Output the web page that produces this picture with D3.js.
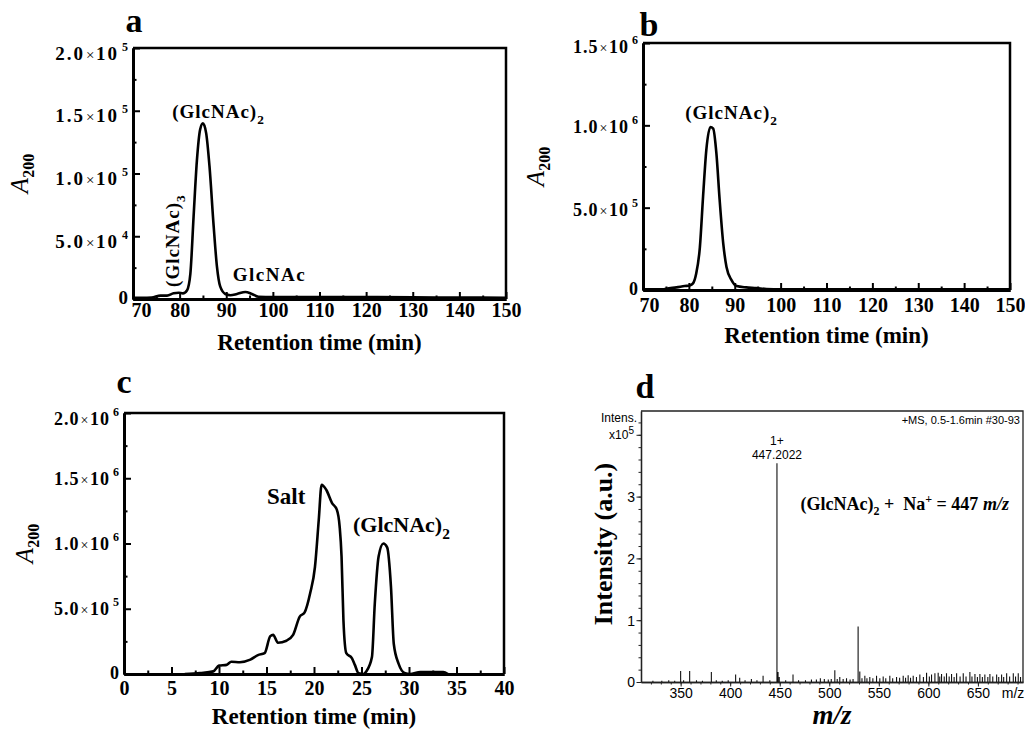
<!DOCTYPE html>
<html>
<head>
<meta charset="utf-8">
<script src="https://cdn.jsdelivr.net/npm/d3@7"></script>
<style>
  body { margin: 0; background: #fff; }
  svg text { font-family: "Liberation Serif", "Times New Roman", serif; font-weight: bold; fill: #000; }
  svg .ms text, svg text.ms { font-family: "Liberation Sans Narrow", "Liberation Sans", Arial, sans-serif; font-weight: normal; }
</style>
</head>
<body>
<svg id="fig" width="1025" height="733"></svg>
<script>
// ---- panel a : HPLC, (GlcNAc)n products ----
var timeA = [70, 72, 74, 75.9, 77.3, 78.7, 79.8, 80.7, 81.6, 82.3, 83.0, 83.7, 84.4, 85.0, 85.7, 86.4, 87.3, 88.0, 88.7, 89.8, 90.9, 92.3, 94.1, 95.5, 96.9, 100, 110, 120, 130, 140, 150];
var absA  = [1000, 1000, 1200, 2700, 2700, 4500, 5000, 4500, 7000, 20000, 66000, 110000, 135000, 140000, 132000, 106000, 58000, 26000, 10000, 4000, 3000, 4000, 5600, 4000, 1800, 1500, 1500, 1500, 1300, 1200, 1000];

// ---- panel b : purified (GlcNAc)2 ----
var timeB = [70, 74.4, 75.1, 77.3, 79.1, 80.2, 80.9, 81.6, 82.4, 83.1, 83.8, 84.7, 85.3, 86.0, 86.7, 87.5, 88.2, 89.3, 90.4, 92.5, 94.7, 96.9, 100, 110, 120, 130, 140, 150];
var absB  = [4000, 4000, 8000, 16000, 24000, 28000, 40000, 100000, 260000, 570000, 850000, 990000, 980000, 830000, 550000, 280000, 140000, 60000, 24000, 16000, 12000, 6000, 4000, 4000, 4000, 4000, 4000, 4000];

// ---- panel c : desalting ----
var timeC = [6.4, 8.0, 9.4, 10.0, 10.8, 11.3, 12.2, 13.3, 14.1, 14.8, 15.4, 15.7, 16.2, 17.1, 17.8, 18.5, 19.0, 19.6, 20.1, 20.5, 20.8, 21.3, 21.9, 22.4, 22.7, 22.9, 23.1, 23.4, 24.0, 24.3, 24.7, 25.2, 25.5, 26.1, 26.4, 26.8, 27.3, 27.7, 28.1, 28.4, 28.9, 29.6, 30.1, 31.2, 33.6, 34.1];
var absC  = [0, 8000, 20000, 64000, 70000, 94000, 90000, 110000, 145000, 160000, 290000, 300000, 240000, 255000, 300000, 440000, 470000, 620000, 820000, 1180000, 1450000, 1410000, 1310000, 1260000, 1130000, 900000, 410000, 160000, 120000, 70000, 5000, 0, 20000, 130000, 540000, 900000, 1000000, 970000, 670000, 230000, 80000, 5000, 0, 15000, 15000, 0];

// ---- panel d : ESI-MS (intensity in units of 1e5) ----
var mzPeaks  = [322, 331, 338, 344, 350.0, 353, 359.1, 366, 372, 381.0, 386, 392, 398, 405.5, 409.6, 415, 421.4, 427, 433.2, 440, 447.2, 448.3, 449.5, 456, 463.4, 469, 476, 482, 487, 491, 495, 499, 502, 505.6, 508, 510.6, 514, 517.4, 521, 524, 529.1, 530.8, 533, 535.9, 538, 540.9, 544, 547.7, 551, 554.4, 557, 561.1, 564, 567.9, 571, 574.6, 577, 579.6, 582, 584.7, 588, 591.4, 595, 598.2, 601, 603.2, 606.6, 609.9, 611.5, 613.3, 616, 618.3, 621, 623.4, 626, 628.5, 632, 635.2, 638, 641.9, 644, 647, 649.5, 652, 654.5, 657, 660, 662.1, 665, 668.9, 671, 673.9, 676, 679, 682, 685.7, 688, 690.7, 693];
var intPeaks = [0.02, 0.02, 0.03, 0.02, 0.18, 0.03, 0.18, 0.03, 0.02, 0.16, 0.03, 0.02, 0.03, 0.12, 0.07, 0.03, 0.05, 0.03, 0.10, 0.03, 3.54, 0.16, 0.08, 0.03, 0.12, 0.03, 0.03, 0.04, 0.04, 0.06, 0.05, 0.04, 0.05, 0.19, 0.05, 0.08, 0.05, 0.06, 0.04, 0.05, 0.90, 0.17, 0.06, 0.10, 0.06, 0.08, 0.06, 0.10, 0.06, 0.09, 0.06, 0.10, 0.06, 0.08, 0.07, 0.10, 0.07, 0.11, 0.07, 0.10, 0.08, 0.12, 0.08, 0.15, 0.09, 0.12, 0.14, 0.15, 0.09, 0.13, 0.09, 0.14, 0.09, 0.13, 0.08, 0.14, 0.09, 0.14, 0.09, 0.16, 0.09, 0.13, 0.08, 0.13, 0.08, 0.12, 0.08, 0.13, 0.09, 0.12, 0.08, 0.12, 0.08, 0.14, 0.09, 0.14, 0.09, 0.14, 0.08];

var svg = d3.select("#fig");

// builds one chromatogram box (panels a-c)
function chromPanel(o) {
  var g = svg.append("g");
  var x = d3.scaleLinear().domain(o.xDomain).range([o.left, o.right]);
  var y = d3.scaleLinear().domain(o.yDomain).range([o.bottom, o.top]);

  // minor ticks first, then majors
  g.append("g")
    .attr("transform", "translate(0," + o.bottom + ")")
    .call(d3.axisBottom(x).tickValues(o.xMinor).tickSize(-3.5).tickSizeOuter(0).tickFormat(""));
  var xa = g.append("g")
    .attr("transform", "translate(0," + o.bottom + ")")
    .call(d3.axisBottom(x).tickValues(o.xMajor).tickSize(-7).tickSizeOuter(0).tickFormat(d3.format("d")));
  xa.selectAll("text").attr("y", o.xLabelY).attr("dy", null)
    .style("font-size", "20px").attr("fill", "#000")
    .attr("x", function(d, i) { return i === 0 ? o.firstXShift : 0; });

  g.append("g")
    .attr("transform", "translate(" + o.left + ",0)")
    .call(d3.axisLeft(y).tickValues(o.yMinor).tickSize(-3.5).tickSizeOuter(0).tickFormat(""));
  g.append("g")
    .attr("transform", "translate(" + o.left + ",0)")
    .call(d3.axisLeft(y).tickValues(o.yMajor).tickSize(-7).tickSizeOuter(0).tickFormat(""));

  g.selectAll(".domain").attr("stroke", "#000").attr("stroke-width", 3);
  g.selectAll(".tick line").attr("stroke", "#000").attr("stroke-width", 2);

  // top and right frame
  g.append("path")
    .attr("d", "M" + o.left + "," + o.top + "H" + o.right + "V" + o.bottom)
    .attr("fill", "none").attr("stroke", "#000").attr("stroke-width", 2.5);

  // y tick labels like 1.5x10^5
  o.yMajor.forEach(function(v, i) {
    var lab = o.yLabels[i];
    var t = g.append("text")
      .attr("x", o.left - 5)
      .attr("text-anchor", "end")
      .style("font-size", o.yFont + "px");
    if (v === 0) {
      t.attr("y", y(v) + 5).text("0");
    } else {
      var off = (i === o.yMajor.length - 1) ? o.yTopOff : o.yOff;
      t.attr("y", y(v) + off);
      t.append("tspan").style("letter-spacing", o.ySpacing + "px").text(lab[0]);
      t.append("tspan").attr("dx", 1).style("font-size", (o.yFont - 4) + "px").style("font-weight", "normal").text("\u00d7");
      t.append("tspan").attr("dx", 1.5).style("letter-spacing", o.ySpacing + "px").text("10");
      t.append("tspan").attr("dx", 3).attr("dy", -9).style("font-size", "12px").text(lab[1]);
    }
  });

  // curve
  var line = d3.line()
    .x(function(d) { return x(d[0]); })
    .y(function(d) { return y(d[1]); })
    .curve(d3.curveMonotoneX);
  g.append("path")
    .datum(d3.zip(o.xs, o.ys))
    .attr("d", line)
    .attr("fill", "none").attr("stroke", "#000").attr("stroke-width", 2.6)
    .attr("stroke-linejoin", "round");

  // axis titles
  g.append("text")
    .attr("x", (o.left + o.right) / 2).attr("y", o.bottom + o.xTitleOff)
    .attr("text-anchor", "middle").style("font-size", "23px")
    .text("Retention time (min)");
  var yt = g.append("text")
    .attr("transform", "translate(" + o.yTitleX + "," + (o.top + o.bottom) / 2 + ") rotate(-90)")
    .attr("text-anchor", "middle").style("font-size", "25px");
  yt.append("tspan").style("font-style", "italic").style("font-weight", "normal").text("A");
  yt.append("tspan").attr("dy", 6).style("font-size", "16px").text("200");

  // panel letter
  g.append("text").attr("x", o.letterX).attr("y", o.letterY)
    .attr("text-anchor", "middle").style("font-size", "34px").text(o.letter);

  return { g: g, x: x, y: y };
}

function subLabel(g, px, py, main, sub, size, spacing, rot) {
  var t = g.append("text")
    .attr("transform", "translate(" + px + "," + py + ")" + (rot ? " rotate(-90)" : ""))
    .style("font-size", size + "px").style("letter-spacing", spacing + "px");
  t.append("tspan").text(main);
  if (sub) t.append("tspan").attr("dy", size * 0.3).style("font-size", (size * 0.7) + "px").text(sub);
  return t;
}

// ---------- a ----------
var pa = chromPanel({
  left: 133, right: 506, top: 48, bottom: 299,
  xDomain: [70, 150], yDomain: [0, 2e5],
  xMajor: d3.range(70, 151, 10), xMinor: d3.range(75, 150, 10),
  yMajor: [0, 5e4, 1e5, 1.5e5, 2e5], yMinor: [2.5e4, 7.5e4, 1.25e5, 1.75e5],
  yLabels: [["0"], ["5.0", "4"], ["1.0", "5"], ["1.5", "5"], ["2.0", "5"]],
  yFont: 19, ySpacing: 2, yOff: 11.5, yTopOff: 11.5,
  xLabelY: 18, firstXShift: 8, xTitleOff: 51, yTitleX: 28,
  xs: timeA, ys: absA, letter: "a", letterX: 134, letterY: 32
});
subLabel(pa.g, pa.x(78.4), pa.y(1.442e5), "(GlcNAc)", "2", 19, 1, false);
subLabel(pa.g, pa.x(91.4), pa.y(1.43e4), "GlcNAc", null, 19, 1.5, false);
subLabel(pa.g, pa.x(79.9), pa.y(9.6e3), "(GlcNAc)", "3", 19, 1, true);

// ---------- b ----------
var pb = chromPanel({
  left: 643, right: 1010, top: 43, bottom: 290,
  xDomain: [70, 150], yDomain: [0, 1.5e6],
  xMajor: d3.range(70, 151, 10), xMinor: d3.range(75, 150, 10),
  yMajor: [0, 5e5, 1e6, 1.5e6], yMinor: [2.5e5, 7.5e5, 1.25e6],
  yLabels: [["0"], ["5.0", "5"], ["1.0", "6"], ["1.5", "6"]],
  yFont: 18, ySpacing: 1, yOff: 8, yTopOff: 10,
  xLabelY: 22, firstXShift: 6, xTitleOff: 53, yTitleX: 544,
  xs: timeB, ys: absB, letter: "b", letterX: 649, letterY: 36
});
subLabel(pb.g, pb.x(79.2), pb.y(1.038e6), "(GlcNAc)", "2", 19, 1, false);

// ---------- c ----------
var pc = chromPanel({
  left: 124, right: 504, top: 413, bottom: 674,
  xDomain: [0, 40], yDomain: [0, 2e6],
  xMajor: d3.range(0, 41, 5), xMinor: d3.range(2.5, 40, 5),
  yMajor: [0, 5e5, 1e6, 1.5e6, 2e6], yMinor: [2.5e5, 7.5e5, 1.25e6, 1.75e6],
  yLabels: [["0"], ["5.0", "5"], ["1.0", "6"], ["1.5", "6"], ["2.0", "6"]],
  yFont: 18, ySpacing: 1, yOff: 6.5, yTopOff: 12,
  xLabelY: 21, firstXShift: 0, xTitleOff: 50, yTitleX: 33,
  xs: timeC, ys: absC, letter: "c", letterX: 124, letterY: 393
});
subLabel(pc.g, pc.x(15.05), pc.y(1.303e6), "Salt", null, 23, 0, false);
subLabel(pc.g, pc.x(24.1), pc.y(1.088e6), "(GlcNAc)", "2", 22, 0, false);

// ---------- d : mass spectrum ----------
var gd = svg.append("g").attr("class", "ms");
var xd = d3.scaleLinear().domain([310, 695.5]).range([641, 1023]);
var yd = d3.scaleLinear().domain([0, 4.385]).range([682, 411]);

gd.append("g").attr("transform", "translate(0,682)")
  .call(d3.axisBottom(xd).tickValues(d3.range(320, 700, 10)).tickSize(2.5).tickSizeOuter(0).tickFormat(""));
var xda = gd.append("g").attr("transform", "translate(0,682)")
  .call(d3.axisBottom(xd).tickValues(d3.range(350, 651, 50)).tickSize(4.5).tickSizeOuter(0).tickFormat(d3.format("d")));
xda.selectAll("text").attr("y", 16).attr("dy", null).style("font-size", "14px").attr("fill", "#111");

gd.append("g").attr("transform", "translate(641,0)")
  .call(d3.axisLeft(yd).tickValues(d3.range(0.2, 4.39, 0.2)).tickSize(2.5).tickSizeOuter(0).tickFormat(""));
var yda = gd.append("g").attr("transform", "translate(641,0)")
  .call(d3.axisLeft(yd).tickValues([0, 1, 2, 3, 4]).tickSize(4.5).tickSizeOuter(0)
    .tickFormat(function(d) { return d === 4 ? "" : d; }));
yda.selectAll("text").attr("x", -6).attr("dy", "0.35em").style("font-size", "14px").attr("fill", "#111");
gd.selectAll(".domain").attr("stroke", "#222").attr("stroke-width", 1.3);
gd.selectAll(".tick line").attr("stroke", "#222").attr("stroke-width", 1);

gd.append("path")
  .attr("d", "M641,411H1023V682")
  .attr("fill", "none").attr("stroke", "#222").attr("stroke-width", 1.3);

// spectrum sticks
gd.append("path")
  .attr("d", mzPeaks.map(function(m, i) {
    return "M" + xd(m) + "," + yd(0) + "V" + yd(intPeaks[i]);
  }).join(""))
  .attr("fill", "none").attr("stroke", "#111").attr("stroke-width", 1.1);

gd.append("text").attr("x", 637).attr("y", 422).attr("text-anchor", "end")
  .style("font-size", "12px").text("Intens.");
var x10 = gd.append("text").attr("x", 634).attr("y", yd(4) + 4).attr("text-anchor", "end")
  .style("font-size", "12px");
x10.append("tspan").text("x10");
x10.append("tspan").attr("dy", -5).style("font-size", "10px").text("5");

gd.append("text").attr("x", 1013).attr("y", 698).attr("text-anchor", "middle")
  .style("font-size", "14px").text("m/z");
gd.append("text").attr("x", 1020).attr("y", 424).attr("text-anchor", "end")
  .style("font-size", "11px").text("+MS, 0.5-1.6min #30-93");

gd.append("text").attr("x", xd(447.2)).attr("y", yd(3.83)).attr("text-anchor", "middle")
  .style("font-size", "12px").text("1+");
gd.append("text").attr("x", xd(447.2)).attr("y", yd(3.61)).attr("text-anchor", "middle")
  .style("font-size", "12px").text("447.2022");

// serif texts in panel d
var ann = svg.append("text").attr("x", xd(471)).attr("y", yd(2.78))
  .style("font-size", "18px").attr("fill", "#3a3a3a");
ann.append("tspan").text("(GlcNAc)");
ann.append("tspan").attr("dy", 5).style("font-size", "12px").text("2");
ann.append("tspan").attr("dy", -5).text("\u00a0+\u00a0\u00a0Na");
ann.append("tspan").attr("dy", -7).style("font-size", "12px").text("+");
ann.append("tspan").attr("dy", 7).text("\u00a0= 447 ");
ann.append("tspan").style("font-style", "italic").text("m/z");

svg.append("text").attr("transform", "translate(612,544) rotate(-90)")
  .attr("text-anchor", "middle").style("font-size", "26px").text("Intensity (a.u.)");
svg.append("text").attr("x", 832).attr("y", 724).attr("text-anchor", "middle")
  .style("font-size", "27px").style("font-style", "italic").text("m/z");
svg.append("text").attr("x", 645).attr("y", 398).attr("text-anchor", "middle")
  .style("font-size", "34px").text("d");
</script>
</body>
</html>
